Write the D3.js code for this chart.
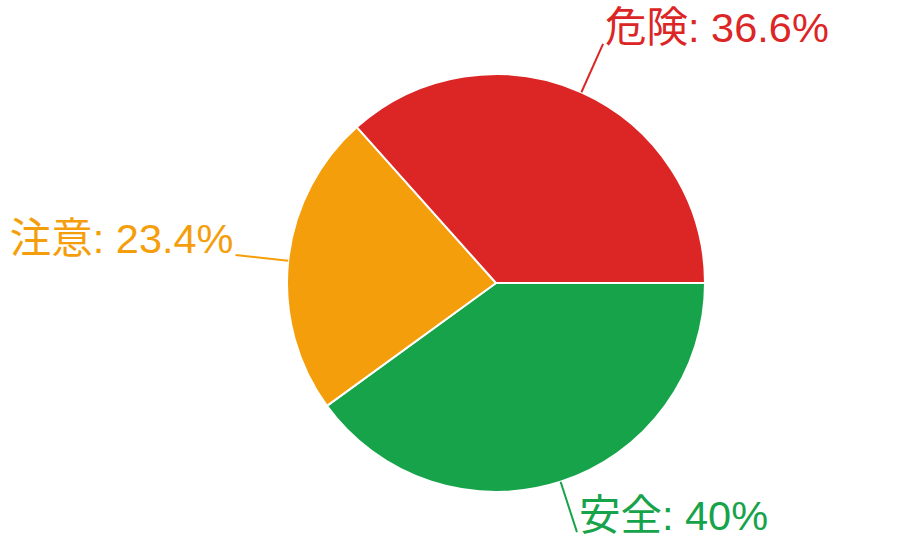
<!DOCTYPE html>
<html>
<head>
<meta charset="utf-8">
<script src="https://cdn.jsdelivr.net/npm/d3@7"></script>
<style>
  html, body { margin: 0; padding: 0; background: #fff; }
  svg { display: block; }
  .pie-label { font-family: "Liberation Sans", "Noto Sans CJK JP", sans-serif; font-size: 41.5px; }
</style>
</head>
<body>
<svg id="chart" width="917" height="553"></svg>
<script>
// Chart data
const categories = ["安全", "注意", "危険"];
const values = [40, 23.4, 36.6];
const colors = ["#16a34a", "#f59e0b", "#dc2626"];

const width = 917;
const height = 553;
const cx = 496;
const cy = 283;
const radius = 209;
const lineEnd = 262;

const svg = d3.select("#chart");
const g = svg.append("g").attr("transform", `translate(${cx},${cy})`);

const data = categories.map((name, i) => ({ name, value: values[i], color: colors[i] }));

// start at 3 o'clock, go clockwise
const pie = d3.pie()
    .value(d => d.value)
    .sort(null)
    .startAngle(Math.PI / 2)
    .endAngle(Math.PI / 2 + 2 * Math.PI);

const arcs = pie(data);

const arc = d3.arc().innerRadius(0).outerRadius(radius);

g.selectAll("path.slice")
    .data(arcs)
    .enter()
    .append("path")
    .attr("class", "slice")
    .attr("d", arc)
    .attr("fill", d => d.data.color)
    .attr("stroke", "#fff")
    .attr("stroke-width", 2)
    .attr("stroke-linejoin", "round");

// label lines + labels
const total = d3.sum(values);

arcs.forEach(d => {
    const mid = (d.startAngle + d.endAngle) / 2;
    const sx = Math.sin(mid), sy = -Math.cos(mid);
    const x0 = sx * radius, y0 = sy * radius;
    const x1 = sx * lineEnd, y1 = sy * lineEnd;
    const right = sx >= 0;

    g.append("line")
        .attr("x1", x0).attr("y1", y0)
        .attr("x2", x1).attr("y2", y1)
        .attr("stroke", d.data.color)
        .attr("stroke-width", 2);

    const pct = Math.round(d.data.value / total * 1000) / 10;
    g.append("text")
        .attr("class", "pie-label")
        .attr("x", x1 + (right ? 2 : -2))
        .attr("y", y1 - 2)
        .attr("text-anchor", right ? "start" : "end")
        .attr("fill", d.data.color)
        .text(`${d.data.name}: ${pct}%`);
});
</script>
</body>
</html>
